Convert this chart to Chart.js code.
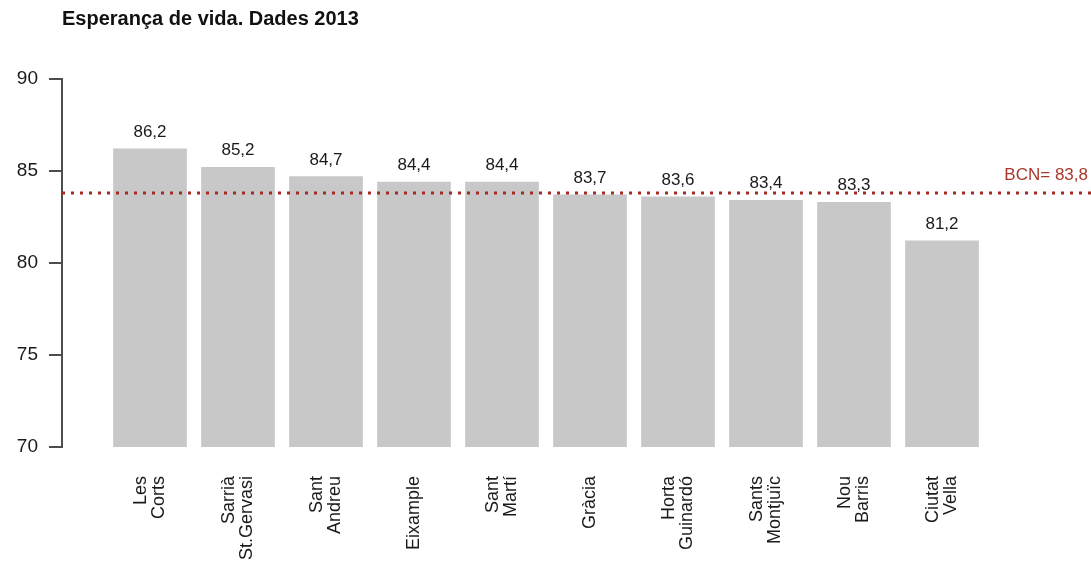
<!DOCTYPE html>
<html>
<head>
<meta charset="utf-8">
<script src="https://cdn.jsdelivr.net/npm/chart.js@4/dist/chart.umd.min.js"></script>
<style>
  html, body { margin: 0; padding: 0; background: #ffffff; }
  #wrap { width: 1091px; height: 566px; }
</style>
</head>
<body>
<div id="wrap"><canvas id="c" width="1091" height="566"></canvas></div>
<script>
// ---- data ----
const categories = [
  ["Les", "Corts"],
  ["Sarrià", "St.Gervasi"],
  ["Sant", "Andreu"],
  ["Eixample"],
  ["Sant", "Martí"],
  ["Gràcia"],
  ["Horta", "Guinardó"],
  ["Sants", "Montjuïc"],
  ["Nou", "Barris"],
  ["Ciutat", "Vella"]
];
const lifeExpectancy = [86.2, 85.2, 84.7, 84.4, 84.4, 83.7, 83.6, 83.4, 83.3, 81.2];
const bcnValue = 83.8;
const bcnLabel = "BCN= 83,8";
const yTicks = [70, 75, 80, 85, 90];
const titleText = "Esperança de vida. Dades 2013";

const FONT = "'Liberation Sans', Arial, Helvetica, sans-serif";
const fmt = v => v.toFixed(1).replace('.', ',');

const points = lifeExpectancy.map((v, i) => ({ x: i + 1, y: v }));

const CAT_FONT_SIZE = 18;
const CAT_LINE_H = 1.0;

const valueLabels = {
  id: 'valueLabels',
  afterDatasetsDraw(chart) {
    const ctx = chart.ctx;
    const meta = chart.getDatasetMeta(0);
    ctx.save();
    ctx.font = "17px " + FONT;
    ctx.fillStyle = '#1a1a1a';
    ctx.textAlign = 'center';
    ctx.textBaseline = 'alphabetic';
    meta.data.forEach((bar, i) => {
      ctx.fillText(fmt(lifeExpectancy[i]), bar.x, bar.y - 12);
    });
    ctx.restore();
  }
};

const refLine = {
  id: 'refLine',
  afterDatasetsDraw(chart) {
    const ctx = chart.ctx;
    const y = chart.scales.y.getPixelForValue(bcnValue);
    const left = chart.chartArea.left;
    ctx.save();
    ctx.strokeStyle = '#a52a1f';
    ctx.lineWidth = 3;
    ctx.setLineDash([3, 6]);
    ctx.beginPath();
    ctx.moveTo(left, y);
    ctx.lineTo(chart.width, y);
    ctx.stroke();
    ctx.setLineDash([]);
    ctx.font = "17px " + FONT;
    ctx.fillStyle = '#a8382b';
    ctx.textAlign = 'right';
    ctx.textBaseline = 'alphabetic';
    ctx.fillText(bcnLabel, chart.width - 3, y - 13);
    ctx.restore();
  }
};

new Chart(document.getElementById('c'), {
  type: 'bar',
  data: {
    datasets: [{
      data: points,
      backgroundColor: '#c8c8c8',
      borderWidth: 0,
      barThickness: 'flex',
      barPercentage: 0.83,
      categoryPercentage: 1.0
    }]
  },
  options: {
    responsive: false,
    animation: false,
    layout: { padding: { left: 0, right: 61, top: 0, bottom: 0 } },
    plugins: {
      legend: { display: false },
      tooltip: { enabled: false },
      title: {
        display: true,
        text: titleText,
        align: 'start',
        fullSize: false,
        color: '#111111',
        font: { family: FONT, size: 20, weight: 'bold' },
        padding: { top: 7, bottom: 48 }
      }
    },
    scales: {
      x: {
        type: 'linear',
        min: 0,
        max: 11,
        offset: false,
        grid: { display: false, drawTicks: false, offset: false },
        border: { display: false },
        afterFit(scale) { scale.height = 119; },
        afterBuildTicks(scale) {
          // centre multi-line rotated labels on their bar
          const span = scale.max - scale.min;
          const pxPerUnit = (scale.width > 0 ? scale.width : 968) / span;
          scale.ticks = categories.map((c, i) => ({
            value: i + 1 - ((c.length - 1) * CAT_FONT_SIZE * CAT_LINE_H / 2) / pxPerUnit
          }));
        },
        ticks: {
          autoSkip: false,
          minRotation: 90,
          maxRotation: 90,
          padding: 29,
          color: '#1a1a1a',
          font: { family: FONT, size: CAT_FONT_SIZE, lineHeight: CAT_LINE_H },
          callback: (value, index) => {
            const lab = categories[index];
            return lab ? lab : '';
          }
        }
      },
      y: {
        min: 70,
        max: 90,
        afterFit(scale) { scale.width = 62; },
        afterBuildTicks(scale) {
          scale.ticks = yTicks.map(v => ({ value: v }));
        },
        grid: {
          drawOnChartArea: false,
          drawTicks: true,
          tickLength: 13,
          color: '#4d4d4d',
          lineWidth: 2
        },
        border: { display: true, color: '#4d4d4d', width: 2 },
        ticks: {
          padding: 11,
          color: '#1a1a1a',
          font: { family: FONT, size: 19 },
          callback: (v) => String(v)
        }
      }
    }
  },
  plugins: [valueLabels, refLine]
});
</script>
</body>
</html>
